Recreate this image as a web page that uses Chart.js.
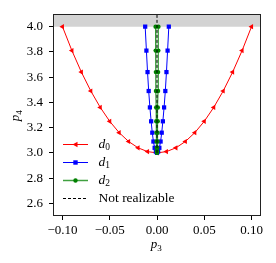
<!DOCTYPE html>
<html>
<head>
<meta charset="utf-8">
<script src="https://cdn.jsdelivr.net/npm/chart.js@4"></script>
<style>
  html, body { margin: 0; padding: 0; background: #fff; }
  #wrap { width: 276px; height: 263px; }
</style>
</head>
<body>
<div id="wrap"><canvas id="grafico" width="276" height="263"></canvas></div>
<script>
// valores
const p4Valores = [4.00, 3.81, 3.64, 3.49, 3.36, 3.25, 3.16, 3.09, 3.04, 3.01, 3.00,
                   3.01, 3.04, 3.09, 3.16, 3.25, 3.36, 3.49, 3.64, 3.81, 4.00];
const d0P3 = [-0.10, -0.09, -0.08, -0.07, -0.06, -0.05, -0.04, -0.03, -0.02, -0.01, 0.00,
              0.01, 0.02, 0.03, 0.04, 0.05, 0.06, 0.07, 0.08, 0.09, 0.10];
const d1P3 = [-0.0125, -0.0112, -0.0100, -0.0088, -0.0075, -0.0062, -0.0050, -0.0038, -0.0025, -0.0012, 0.0,
              0.0012, 0.0025, 0.0038, 0.0050, 0.0062, 0.0075, 0.0088, 0.0100, 0.0112, 0.0125];
const d2P3 = [-0.0015, -0.0014, -0.0012, -0.0011, -0.0009, -0.0008, -0.0006, -0.0005, -0.0003, -0.0002, 0.0,
              0.0002, 0.0003, 0.0005, 0.0006, 0.0008, 0.0009, 0.0011, 0.0012, 0.0014, 0.0015];
const limiteP4 = [4.0, 4.1];       // zona gris
const noRealizableP4 = [3.0, 4.1]; // linea discontinua en p3 = 0
const xTicks = [-0.10, -0.05, 0.00, 0.05, 0.10];
const yTicks = [2.6, 2.8, 3.0, 3.2, 3.4, 3.6, 3.8, 4.0];

const fuente = "'Liberation Serif', 'DejaVu Serif', serif";

function puntos(xs, ys) {
    return xs.map((x, i) => ({ x: x, y: ys[i] }));
}

function fmt(v, dec) {
    const s = Math.abs(v).toFixed(dec);
    return v < -1e-9 ? '\u2212' + s : s;
}

// dibuja "letra" en cursiva con subindice
function textoSub(ctx, letra, sub, x, y, size) {
    ctx.font = 'italic ' + size + 'px ' + fuente;
    ctx.fillText(letra, x, y);
    const w = ctx.measureText(letra).width;
    ctx.font = (size * 0.7) + 'px ' + fuente;
    ctx.fillText(sub, x + w, y + size * 0.22);
    return w + ctx.measureText(sub).width;
}

const leyenda = [
    { tipo: 'd', sub: '0', color: '#ff0000', marca: 'tri' },
    { tipo: 'd', sub: '1', color: '#0000ff', marca: 'cuad' },
    { tipo: 'd', sub: '2', color: '#008000', marca: 'circ' },
    { texto: 'Not realizable', color: '#000000', marca: 'dash' }
];

const extras = {
    id: 'extras',
    afterDraw(chart) {
        const ctx = chart.ctx;
        const a = chart.chartArea;
        ctx.save();
        // marco
        ctx.strokeStyle = '#222';
        ctx.lineWidth = 1;
        ctx.strokeRect(a.left + 0.5, a.top + 0.5, a.right - a.left - 1, a.bottom - a.top - 1);

        // leyenda
        ctx.textBaseline = 'middle';
        ctx.fillStyle = '#000';
        leyenda.forEach((e, i) => {
            const y = a.bottom - 71.5 + i * 18;
            const x0 = a.left + 10, x1 = a.left + 35, xm = (x0 + x1) / 2;
            ctx.strokeStyle = e.color;
            ctx.lineWidth = e.marca === 'circ' ? 1.5 : 1;
            ctx.setLineDash(e.marca === 'dash' ? [3, 2] : []);
            if (e.marca === 'circ') ctx.globalAlpha = 0.75;
            ctx.beginPath();
            ctx.moveTo(x0, y);
            ctx.lineTo(x1, y);
            ctx.stroke();
            ctx.globalAlpha = 1;
            ctx.setLineDash([]);
            ctx.fillStyle = e.color;
            if (e.marca === 'tri') {
                ctx.beginPath();
                ctx.moveTo(xm - 3, y);
                ctx.lineTo(xm + 2, y - 2.8);
                ctx.lineTo(xm + 2, y + 2.8);
                ctx.closePath();
                ctx.fill();
            } else if (e.marca === 'cuad') {
                ctx.fillRect(xm - 2.2, y - 2.2, 4.4, 4.4);
            } else if (e.marca === 'circ') {
                ctx.beginPath();
                ctx.arc(xm, y, 2.2, 0, Math.PI * 2);
                ctx.fill();
            }
            ctx.fillStyle = '#000';
            ctx.textAlign = 'left';
            if (e.texto) {
                ctx.font = '13.5px ' + fuente;
                ctx.fillText(e.texto, a.left + 45.5, y);
            } else {
                textoSub(ctx, e.tipo, e.sub, a.left + 45.5, y, 13.5);
            }
        });

        // titulos de ejes
        ctx.textBaseline = 'alphabetic';
        ctx.font = 'italic 13px ' + fuente;
        const cx = (a.left + a.right) / 2;
        const wp = ctx.measureText('p').width + 6;
        textoSub(ctx, 'p', '3', cx - wp / 2, 248, 13);
        ctx.translate(19, (a.top + a.bottom) / 2 + wp / 2);
        ctx.rotate(-Math.PI / 2);
        textoSub(ctx, 'p', '4', 0, 0, 13);
        ctx.restore();
    }
};

new Chart(document.getElementById('grafico').getContext('2d'), {
    type: 'line',
    data: {
        datasets: [
            {
                label: 'zona',
                data: puntos([-0.11, 0.11], [limiteP4[1], limiteP4[1]]),
                fill: { value: limiteP4[0] },
                backgroundColor: '#d3d3d3',
                borderWidth: 0,
                pointRadius: 0,
                order: 6
            },
            {
                label: 'd0',
                data: puntos(d0P3, p4Valores),
                borderColor: '#ff0000',
                backgroundColor: '#ff0000',
                borderWidth: 1,
                pointStyle: 'triangle',
                rotation: -90,
                pointRadius: 3,
                pointBorderWidth: 0,
                order: 4
            },
            {
                label: 'd1',
                data: puntos(d1P3, p4Valores),
                borderColor: '#0000ff',
                backgroundColor: '#0000ff',
                borderWidth: 1,
                pointStyle: 'rect',
                pointRadius: 3,
                pointBorderWidth: 0,
                order: 3
            },
            {
                label: 'd2',
                data: puntos(d2P3, p4Valores),
                borderColor: 'rgba(0,128,0,0.8)',
                backgroundColor: '#008000',
                borderWidth: 1.2,
                pointStyle: 'circle',
                pointRadius: 2.2,
                pointBorderWidth: 0,
                order: 2
            },
            {
                label: 'Not realizable',
                data: puntos([0, 0], noRealizableP4),
                borderColor: '#000000',
                borderWidth: 1,
                borderDash: [3, 2],
                pointRadius: 0,
                order: 1
            }
        ]
    },
    options: {
        responsive: false,
        devicePixelRatio: 1,
        animation: false,
        layout: { padding: { left: 0, right: 15, top: 14, bottom: 0 } },
        plugins: {
            legend: { display: false },
            tooltip: { enabled: false }
        },
        scales: {
            x: {
                type: 'linear',
                min: -0.11,
                max: 0.11,
                afterFit: s => { s.height = 47; },
                afterBuildTicks: s => { s.ticks = xTicks.map(v => ({ value: v })); },
                grid: { drawOnChartArea: false, tickLength: 4, color: '#000' },
                border: { display: false },
                ticks: {
                    color: '#000',
                    padding: 3,
                    maxRotation: 0,
                    font: { family: fuente, size: 13 },
                    callback: v => fmt(v, 2)
                }
            },
            y: {
                type: 'linear',
                min: 2.5,
                max: 4.1,
                afterFit: s => { s.width = 53; },
                afterBuildTicks: s => { s.ticks = yTicks.map(v => ({ value: v })); },
                grid: { drawOnChartArea: false, tickLength: 4, color: '#000' },
                border: { display: false },
                ticks: {
                    color: '#000',
                    padding: 6,
                    font: { family: fuente, size: 13 },
                    callback: v => fmt(v, 1)
                }
            }
        }
    },
    plugins: [extras]
});
</script>
</body>
</html>
